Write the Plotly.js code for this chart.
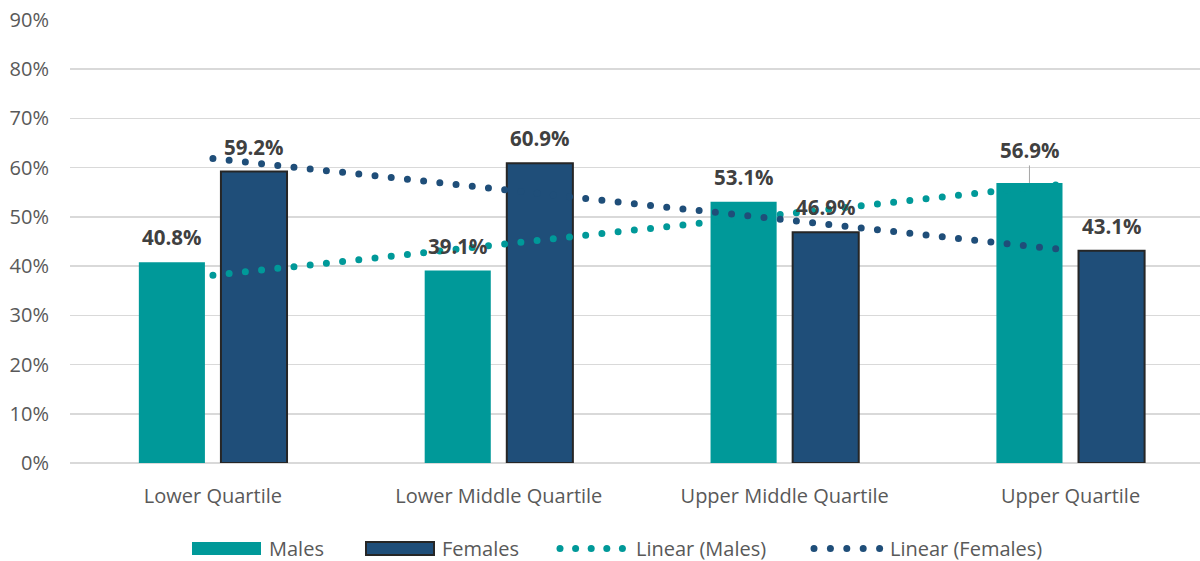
<!DOCTYPE html>
<html>
<head>
<meta charset="utf-8">
<script src="https://cdn.plot.ly/plotly-3.0.1.min.js"></script>
<style>
  html, body { margin: 0; padding: 0; background: #fff; }
  #chart { width: 1200px; height: 561px; }
  .scatterlayer .js-line { stroke-linecap: round !important; }
</style>
</head>
<body>
<div id="chart"></div>
<script>
const categories = ["Lower Quartile", "Lower Middle Quartile", "Upper Middle Quartile", "Upper Quartile"];
const males = [40.8, 39.1, 53.1, 56.9];
const females = [59.2, 60.9, 46.9, 43.1];
const yTicks = [0, 10, 20, 30, 40, 50, 60, 70, 80, 90];
const seriesNames = ["Males", "Females", "Linear (Males)", "Linear (Females)"];

const TEAL = "#009999";
const NAVY = "#1F4E79";
const FONT = "Open Sans, sans-serif";

function linearFit(vals) {
  const n = vals.length;
  const xs = vals.map((_, i) => i);
  const mx = xs.reduce((a, b) => a + b, 0) / n;
  const my = vals.reduce((a, b) => a + b, 0) / n;
  let num = 0, den = 0;
  for (let i = 0; i < n; i++) { num += (xs[i] - mx) * (vals[i] - my); den += (xs[i] - mx) ** 2; }
  const slope = num / den;
  const icpt = my - slope * mx;
  return { x: [0, n - 1], y: [icpt, icpt + slope * (n - 1)] };
}
const fitM = linearFit(males);
const fitF = linearFit(females);

const traces = [
  { type: "bar", name: seriesNames[0], x: [0,1,2,3], y: males,
    marker: { color: TEAL, line: { color: TEAL, width: 0 } }, hoverinfo: "skip" },
  { type: "bar", name: seriesNames[1], x: [0,1,2,3], y: females,
    marker: { color: NAVY, line: { color: "#262626", width: 2 } }, hoverinfo: "skip" },
  { type: "scatter", mode: "lines", name: seriesNames[2], x: fitM.x, y: fitM.y,
    line: { color: TEAL, width: 7, dash: "0px,16.3px" }, hoverinfo: "skip" },
  { type: "scatter", mode: "lines", name: seriesNames[3], x: fitF.x, y: fitF.y,
    line: { color: NAVY, width: 7, dash: "0px,16.3px" }, hoverinfo: "skip" }
];

// plot area geometry (pixels)
const M = { l: 70, r: 0, t: 20, b: 98 };
const W = 1200, H = 561;
const PW = W - M.l - M.r, PH = H - M.t - M.b;
const px = x => (x - M.l) / PW;
const py = y => (H - M.b - y) / PH;

const OFF = 0.1436;
const labelFont = { family: FONT, size: 20.5, color: "#404040" };
const annotations = [];
males.forEach((v, i) => {
  if (i === 3) {
    annotations.push({ x: i - OFF, y: v, xref: "x", yref: "y", text: "<b>" + v.toFixed(1) + "%</b>",
      showarrow: true, arrowhead: 0, arrowwidth: 1, arrowcolor: "#A6A6A6", ax: 0, ay: -33,
      standoff: 0, font: labelFont });
  } else {
    annotations.push({ x: i - OFF, y: v, xref: "x", yref: "y", text: "<b>" + v.toFixed(1) + "%</b>",
      showarrow: false, yanchor: "middle", yshift: 25, font: labelFont });
  }
});
females.forEach((v, i) => {
  annotations.push({ x: i + OFF, y: v, xref: "x", yref: "y", text: "<b>" + v.toFixed(1) + "%</b>",
    showarrow: false, yanchor: "middle", yshift: 25, font: labelFont });
});

// custom legend (symbols + text) laid out as in the reference
const legY = 548.5;
const legendFont = { family: FONT, size: 20, color: "#595959" };
const shapes = [];
const legendItems = [
  { kind: "rect", x0: 192, x1: 261, color: TEAL, line: TEAL, lw: 0, tx: 267 },
  { kind: "rect", x0: 366, x1: 434, color: NAVY, line: "#262626", lw: 2, tx: 440 },
  { kind: "dots", x0: 560, step: 15.6, color: TEAL, tx: 634 },
  { kind: "dots", x0: 814, step: 16.4, color: NAVY, tx: 888 }
];
legendItems.forEach((it, k) => {
  if (it.kind === "rect") {
    shapes.push({ type: "rect", xref: "paper", yref: "paper",
      x0: px(it.x0), x1: px(it.x1), y0: py(legY + 6.5), y1: py(legY - 6.5),
      fillcolor: it.color, line: { color: it.line, width: it.lw } });
  } else {
    for (let d = 0; d < 5; d++) {
      const cx = it.x0 + d * it.step;
      shapes.push({ type: "circle", xref: "paper", yref: "paper",
        x0: px(cx - 3.5), x1: px(cx + 3.5), y0: py(legY + 3.5), y1: py(legY - 3.5),
        fillcolor: it.color, line: { width: 0 } });
    }
  }
  annotations.push({ xref: "paper", yref: "paper", x: px(it.tx), y: py(legY),
    xanchor: "left", yanchor: "middle", text: seriesNames[k], showarrow: false, font: legendFont });
});

const layout = {
  width: W, height: H,
  margin: M,
  paper_bgcolor: "#ffffff", plot_bgcolor: "#ffffff",
  font: { family: FONT, color: "#595959", size: 20 },
  barmode: "group", bargap: 0.4256, bargroupgap: 0.195,
  showlegend: false,
  xaxis: { type: "linear", range: [-0.5, 3.453], tickvals: [0,1,2,3], ticktext: categories,
    showgrid: false, zeroline: false, showline: false, ticks: "", ticklabelstandoff: 19,
    tickfont: { family: FONT, size: 20, color: "#595959" }, fixedrange: true, automargin: false },
  yaxis: { range: [0, 90], tickvals: yTicks, ticktext: yTicks.map(t => t + "%"),
    showgrid: true, gridcolor: "#D9D9D9", gridwidth: 1.5, zeroline: true, zerolinecolor: "#D9D9D9",
    zerolinewidth: 1.5, showline: false, ticks: "", ticklabelstandoff: 20,
    tickfont: { family: FONT, size: 20, color: "#595959" }, fixedrange: true, automargin: false },
  shapes: shapes,
  annotations: annotations
};

Plotly.newPlot("chart", traces, layout, { displayModeBar: false, staticPlot: true });
</script>
</body>
</html>
